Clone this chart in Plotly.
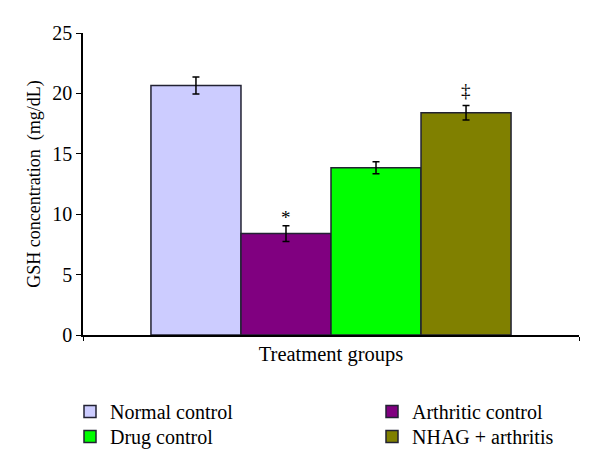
import plotly.graph_objects as go

groups = ["Normal control", "Arthritic control", "Drug control", "NHAG + arthritis"]
values = [20.65, 8.4, 13.85, 18.4]
errors = [0.7, 0.65, 0.5, 0.6]
colors = ["#CCCCFF", "#800080", "#00FF00", "#808000"]
marks = ["", "*", "", "‡"]
category = "Treatment groups"
y_title = "GSH concentration  (mg/dL)"

FONT = "Liberation Serif"
mark_shift = {"*": -4, "‡": 2}
# legend slot (column, row) for each group
legend_slots = [(0, 0), (1, 0), (0, 1), (1, 1)]

# page body has an 8px margin; compensate so the plot lands where the reference has it
ML, MR, MT, MB = 75, 29, 25, 143
PW = 600 - ML - MR
PH = 470 - MT - MB

fig = go.Figure()
for i, (g, v, e, c) in enumerate(zip(groups, values, errors, colors)):
    fig.add_trace(go.Bar(
        name=g, x=[category], y=[v], legend="legend" if i == 0 else f"legend{i + 1}",
        marker=dict(color=c, line=dict(color="#222233", width=1.5)),
        error_y=dict(type="data", array=[e], color="black", thickness=1.5, width=3.5),
    ))

n = len(groups)
bargap = 0.274
group_w = 1 - bargap
bw = group_w / n
for i, (m, v, e) in enumerate(zip(marks, values, errors)):
    if m:
        fig.add_annotation(
            x=-group_w / 2 + bw * (i + 0.5), y=v + e, xref="x", yref="y",
            text=m, showarrow=False, yanchor="bottom", yshift=mark_shift[m],
            font=dict(family=FONT, size=19, color="black"),
        )

col_x = [-13, 289]   # px from plot left
row_top = [57, 82]   # px below plot bottom
legends = {}
for i, (cx, ry) in enumerate(legend_slots):
    key = "legend" if i == 0 else f"legend{i + 1}"
    legends[key] = dict(
        orientation="v", xanchor="left", yanchor="top",
        x=col_x[cx] / PW, y=-row_top[ry] / PH,
        font=dict(family=FONT, size=20, color="black"),
        bgcolor="rgba(0,0,0,0)",
    )

fig.update_layout(
    width=600, height=470,
    margin=dict(l=ML, r=MR, t=MT, b=MB, autoexpand=False),
    paper_bgcolor="white", plot_bgcolor="white",
    barmode="group", bargap=bargap, bargroupgap=0,
    font=dict(family=FONT, size=20, color="black"),
    showlegend=True,
    xaxis=dict(
        showline=True, linecolor="black", linewidth=1.5,
        ticks="outside", tickson="boundaries", ticklen=4, tickcolor="black",
        showgrid=False, range=[-0.5, 0.5],
        tickfont=dict(family=FONT, size=20.5),
    ),
    yaxis=dict(
        range=[0, 25], dtick=5, showline=True, linecolor="black", linewidth=1.5,
        ticks="outside", ticklen=5, tickcolor="black", showgrid=False, zeroline=False,
        title=dict(text=y_title, font=dict(family=FONT, size=18), standoff=7),
        tickfont=dict(family=FONT, size=20),
    ),
    **legends,
)

fig.write_html("out.html")
